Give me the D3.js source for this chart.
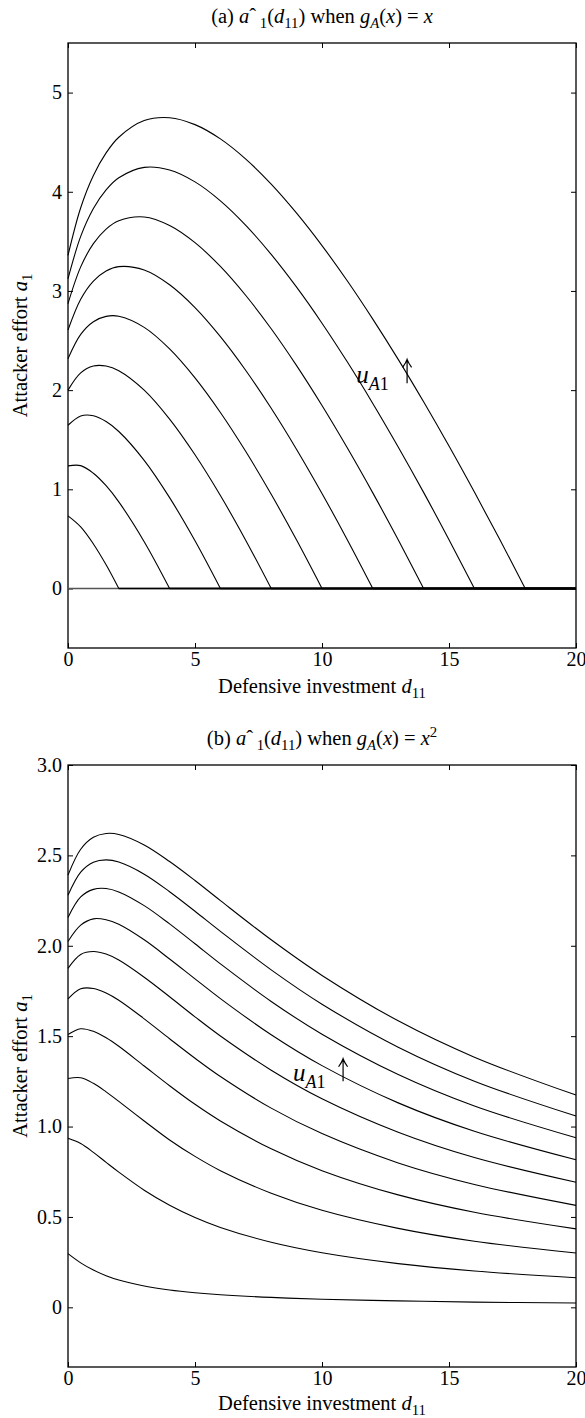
<!DOCTYPE html>
<html>
<head>
<meta charset="utf-8">
<script src="https://cdn.jsdelivr.net/npm/d3@7"></script>
<style>
    body { margin: 0; background: #fff; }
    svg { display: block; }
    text { font-family: "Liberation Serif", "Times New Roman", serif; }
</style>
</head>
<body>
<svg id="fig" width="585" height="1418"></svg>
<script>

//*************************************************
// Data
//*************************************************
var xTicks = [0, 5, 10, 15, 20];

// (a) g_A(x) = x : one curve per u_A1 = 1, 3, ..., 19 (each ends where it hits 0)
var dA = [0, 0.5, 1, 1.5, 2, 3, 4, 5, 6, 7, 8, 9, 10, 11, 12, 13, 14, 15, 16, 17, 18];
var aHatLinear = [
    [0],
    [0.732, 0.621, 0.449, 0.239, 0],
    [1.236, 1.239, 1.162, 1.036, 0.873, 0.472, 0],
    [1.646, 1.740, 1.742, 1.683, 1.583, 1.292, 0.916, 0.481, 0],
    [2.000, 2.174, 2.243, 2.243, 2.196, 2.000, 1.708, 1.348, 0.937, 0.485, 0],
    [2.317, 2.562, 2.690, 2.744, 2.745, 2.633, 2.416, 2.124, 1.775, 1.381, 0.950, 0.488, 0],
    [2.606, 2.916, 3.099, 3.201, 3.245, 3.211, 3.062, 2.832, 2.539, 2.198, 1.817, 1.402, 0.958, 0.490, 0],
    [2.873, 3.243, 3.477, 3.624, 3.708, 3.746, 3.660, 3.487, 3.247, 2.954, 2.619, 2.247, 1.845, 1.416, 0.964, 0.491, 0],
    [3.123, 3.550, 3.831, 4.019, 4.141, 4.246, 4.220, 4.100, 3.909, 3.662, 3.369, 3.038, 2.675, 2.283, 1.866, 1.427, 0.969, 0.492, 0],
    [3.359, 3.839, 4.164, 4.392, 4.550, 4.718, 4.747, 4.677, 4.533, 4.329, 4.077, 3.784, 3.457, 3.100, 2.716, 2.310, 1.882, 1.436, 0.972, 0.493, 0]
];
var yTicksA = [0, 1, 2, 3, 4, 5];
var yTickLabelsA = ['0', '1', '2', '3', '4', '5'];

// (b) g_A(x) = x^2
var dB = [0, 0.5, 1, 1.5, 2, 3, 4, 5, 6, 8, 10, 13, 16, 20];
var aHatQuad = [
    [0.297, 0.246, 0.206, 0.175, 0.151, 0.118, 0.096, 0.081, 0.070, 0.055, 0.045, 0.036, 0.029, 0.024],
    [0.935, 0.906, 0.857, 0.802, 0.748, 0.648, 0.565, 0.497, 0.442, 0.360, 0.302, 0.242, 0.201, 0.164],
    [1.266, 1.270, 1.239, 1.192, 1.139, 1.031, 0.926, 0.835, 0.756, 0.631, 0.537, 0.437, 0.366, 0.301],
    [1.509, 1.541, 1.527, 1.491, 1.444, 1.335, 1.226, 1.123, 1.031, 0.877, 0.756, 0.622, 0.526, 0.434],
    [1.706, 1.762, 1.764, 1.739, 1.699, 1.596, 1.486, 1.378, 1.277, 1.102, 0.961, 0.799, 0.680, 0.564],
    [1.875, 1.952, 1.968, 1.954, 1.921, 1.826, 1.718, 1.607, 1.501, 1.312, 1.154, 0.969, 0.829, 0.692],
    [2.024, 2.114, 2.149, 2.144, 2.119, 2.033, 1.927, 1.817, 1.708, 1.508, 1.337, 1.131, 0.974, 0.816],
    [2.157, 2.270, 2.312, 2.317, 2.298, 2.222, 2.121, 2.011, 1.900, 1.692, 1.511, 1.288, 1.114, 0.938],
    [2.279, 2.407, 2.462, 2.475, 2.463, 2.396, 2.299, 2.191, 2.080, 1.867, 1.677, 1.439, 1.251, 1.058],
    [2.391, 2.534, 2.600, 2.621, 2.616, 2.558, 2.466, 2.361, 2.250, 2.033, 1.836, 1.585, 1.384, 1.174]
];
var yTicksB = [0, 0.5, 1, 1.5, 2, 2.5, 3];
var yTickLabelsB = ['0', '0.5', '1.0', '1.5', '2.0', '2.5', '3.0'];

var SERIF = '"Liberation Serif", "Times New Roman", serif';


d3.bestResponse = function (){

    //*************************************************
    // Public Variables loaded with default values
    //*************************************************
    var _width = 585;
    var _height = 700;
    var _paddingObject = { top: 43, right: 9, bottom: 50, left: 68 };
    var _yDomain = [0, 1];
    var _yTicks = [];
    var _yTickLabels = [];
    var _title = [];
    var _flatTail = false;
    var _note = { x: 0, y: 0, arrowX: 0, arrowTop: 0 };
    var _fontSize = 20.5;
    var _tickFontSize = 20;
    var _xLabelGap = 44;

    var __chartWidth;
    var __chartHeight;

    function chart(selection){
        selection.each(function (data){
            var root = d3.select(this);

            __chartWidth = _width - _paddingObject.left - _paddingObject.right;
            __chartHeight = _height - _paddingObject.top - _paddingObject.bottom;

            var g = root.append('g')
                .attr('transform', 'translate(' + _paddingObject.left + ',' + _paddingObject.top + ')');

            var x = d3.scaleLinear().domain([0, 20]).range([0, __chartWidth]);
            var y = d3.scaleLinear().domain(_yDomain).range([__chartHeight, 0]);

            //----------------------------------------------------------------------------------
            // axes, all ticks pointing inwards
            //----------------------------------------------------------------------------------
            var fmtY = function (d){ return _yTickLabels[_yTicks.indexOf(d)]; };

            var bottom = g.append('g').attr('transform', 'translate(0,' + __chartHeight + ')')
                .call(d3.axisBottom(x).tickValues(xTicks).tickSize(-5).tickPadding(4));
            var left = g.append('g')
                .call(d3.axisLeft(y).tickValues(_yTicks).tickFormat(fmtY).tickSize(-5).tickPadding(6));
            var top = g.append('g')
                .call(d3.axisTop(x).tickValues(xTicks).tickSize(-5).tickFormat(''));
            var right = g.append('g').attr('transform', 'translate(' + __chartWidth + ',0)')
                .call(d3.axisRight(y).tickValues(_yTicks).tickSize(-5).tickFormat(''));

            [bottom, left, top, right].forEach(function (ax){
                ax.select('.domain').remove();
                ax.attr('font-family', null).attr('font-size', null);
                ax.selectAll('line').attr('stroke-width', 1);
                ax.selectAll('text').style('font-size', _tickFontSize + 'px').attr('fill', '#000');
            });

            g.append('rect')
                .attr('width', __chartWidth).attr('height', __chartHeight)
                .attr('fill', 'none').attr('stroke', '#000').attr('stroke-width', 1.3);

            //----------------------------------------------------------------------------------
            // curves
            //----------------------------------------------------------------------------------
            var line = d3.line()
                .x(function (p){ return x(p[0]); })
                .y(function (p){ return y(p[1]); })
                .curve(d3.curveCatmullRom.alpha(0.5));

            data.curves.forEach(function (vals, k){
                var pts = vals.map(function (v, i){ return [data.d[i], v]; });
                if (pts.length > 1){
                    g.append('path').attr('d', line(pts))
                        .attr('fill', 'none').attr('stroke', '#000').attr('stroke-width', 1.1);
                }
                if (_flatTail){
                    var last = pts[pts.length - 1];
                    g.append('line')
                        .attr('x1', x(last[0])).attr('x2', x(20))
                        .attr('y1', y(0)).attr('y2', y(0))
                        .attr('stroke', k === 0 ? '#555' : '#000')
                        .attr('stroke-width', 1.6);
                }
            });

            //----------------------------------------------------------------------------------
            // u_A1 arrow note
            //----------------------------------------------------------------------------------
            var note = g.append('text').attr('x', x(_note.x)).attr('y', y(_note.y));
            richText(note, [['u', 'i'], ['A', 'isub'], ['1', 'sub']], 25);

            var ax0 = x(_note.arrowX), yb = y(_note.y), yt = y(_note.arrowTop);
            g.append('path')
                .attr('d', 'M' + ax0 + ',' + yb + 'V' + yt +
                    'M' + (ax0 - 4.5) + ',' + (yt + 8) + 'Q' + (ax0 - 1) + ',' + (yt + 3) + ' ' + ax0 + ',' + yt +
                    'Q' + (ax0 + 1) + ',' + (yt + 3) + ' ' + (ax0 + 4.5) + ',' + (yt + 8))
                .attr('fill', 'none').attr('stroke', '#000').attr('stroke-width', 1.2);

            //----------------------------------------------------------------------------------
            // titles and axis labels
            //----------------------------------------------------------------------------------
            var t = g.append('text').attr('x', __chartWidth / 2).attr('y', -20)
                .attr('text-anchor', 'middle');
            richText(t, _title, _fontSize);

            var xl = g.append('text').attr('x', __chartWidth / 2).attr('y', __chartHeight + _xLabelGap)
                .attr('text-anchor', 'middle');
            richText(xl, [['Defensive investment '], ['d', 'i'], ['11', 'sub']], _fontSize);

            var yl = g.append('text')
                .attr('transform', 'translate(' + (27 - _paddingObject.left) + ',' + (__chartHeight / 2) + ') rotate(-90)')
                .attr('text-anchor', 'middle');
            richText(yl, [['Attacker effort '], ['a', 'i'], ['1', 'sub']], _fontSize);

            root.selectAll('text').style('font-family', SERIF);

        });//selection.each()
    } //function chart

    //-------------------------------------------------
    // Getters and setters for public variables
    //-------------------------------------------------
    chart.width = function (value){
        if (!arguments.length){ return _width; }
        _width = value;
        return chart;
    };
    chart.height = function (value){
        if (!arguments.length){ return _height; }
        _height = value;
        return chart;
    };
    chart.padding = function (newObject){
        if (!arguments.length){ return _paddingObject; }
        _paddingObject = newObject;
        return chart;
    };
    chart.yDomain = function (value){
        if (!arguments.length){ return _yDomain; }
        _yDomain = value;
        return chart;
    };
    chart.yTicks = function (ticks, labels){
        if (!arguments.length){ return _yTicks; }
        _yTicks = ticks;
        _yTickLabels = labels;
        return chart;
    };
    chart.title = function (parts){
        if (!arguments.length){ return _title; }
        _title = parts;
        return chart;
    };
    chart.flatTail = function (value){
        if (!arguments.length){ return _flatTail; }
        _flatTail = value;
        return chart;
    };
    chart.note = function (value){
        if (!arguments.length){ return _note; }
        _note = value;
        return chart;
    };
    chart.xLabelGap = function (value){
        if (!arguments.length){ return _xLabelGap; }
        _xLabelGap = value;
        return chart;
    };

    //----------------------------------------------------------------------------------
    // Helper Functions
    //----------------------------------------------------------------------------------
    // parts: [text, style]; style in i | sub | isub | sup
    function richText(sel, parts, size){
        var shift = 0;
        parts.forEach(function (p){
            var st = p[1] || '';
            var target = 0;
            var fs = size;
            if (st === 'sub' || st === 'isub'){ target = 0.26 * size; fs = 0.72 * size; }
            if (st === 'sup'){ target = -0.4 * size; fs = 0.72 * size; }
            sel.append('tspan')
                .attr('dy', target - shift)
                .style('font-size', fs + 'px')
                .style('font-style', (st === 'i' || st === 'isub') ? 'italic' : 'normal')
                .text(p[0]);
            shift = target;
        });
    }

    return chart;
};


var svg = d3.select('#fig');
svg.append('rect').attr('width', 585).attr('height', 1418).attr('fill', '#fff');

var chartA = d3.bestResponse()
    .height(698)
    .padding({ top: 43, right: 9, bottom: 50, left: 68 })
    .yDomain([-0.6, 5.5])
    .yTicks(yTicksA, yTickLabelsA)
    .flatTail(true)
    .xLabelGap(45)
    .title([['(a) '], ['a', 'i'], ['ˆ'], [' 1', 'sub'], ['('], ['d', 'i'], ['11', 'sub'], [') when '],
        ['g', 'i'], ['A', 'isub'], ['('], ['x', 'i'], [') = '], ['x', 'i']])
    .note({ x: 11.35, y: 2.07, arrowX: 13.35, arrowTop: 2.31 });

svg.append('g').datum({ d: dA, curves: aHatLinear }).call(chartA);

var chartB = d3.bestResponse()
    .height(698)
    .padding({ top: 45, right: 9, bottom: 51, left: 68 })
    .yDomain([-0.33, 3.0])
    .yTicks(yTicksB, yTickLabelsB)
    .xLabelGap(43)
    .title([['(b) '], ['a', 'i'], ['ˆ'], [' 1', 'sub'], ['('], ['d', 'i'], ['11', 'sub'], [') when '],
        ['g', 'i'], ['A', 'isub'], ['('], ['x', 'i'], [') = '], ['x', 'i'], ['2', 'sup']])
    .note({ x: 8.86, y: 1.25, arrowX: 10.83, arrowTop: 1.375 });

svg.append('g').attr('transform', 'translate(0,720)').datum({ d: dB, curves: aHatQuad }).call(chartB);

</script>
</body>
</html>
